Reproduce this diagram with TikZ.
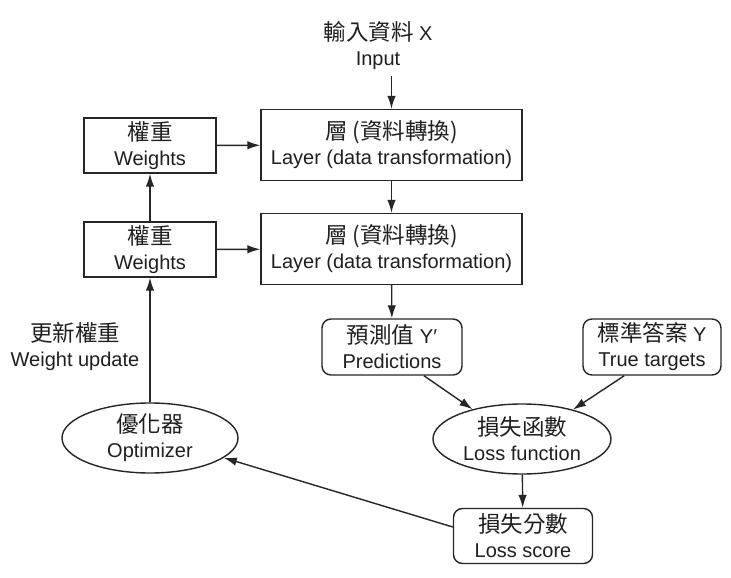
\documentclass[tikz,border=0pt]{standalone}
\usepackage{fontspec}
\setmainfont{Liberation Sans}
\newfontfamily\cjk{Noto Sans CJK TC}
\newcommand\zh[1]{{\cjk\fontsize{22.5}{25}\selectfont #1}}
\usetikzlibrary{arrows.meta,shapes.geometric}
\begin{document}
\begin{tikzpicture}[x=1pt,y=-1pt,
  every node/.style={align=center,inner sep=0pt,text=black!88,
    font=\fontsize{20}{25}\selectfont},
  sq/.style={draw=black!85,line width=1.4pt},
  layerbox/.style={sq,minimum width=261pt,minimum height=71pt},
  wbox/.style={sq,minimum width=132pt,minimum height=55pt},
  rbox/.style={sq,rounded corners=9pt,minimum height=56pt},
  oval/.style={sq,ellipse,minimum height=70pt},
  conn/.style={draw=black!85,line width=1.4pt,-{Latex[length=13pt,width=8.5pt]}}
]
\useasboundingbox[fill=white] (0,0) rectangle (731,578);

\node (in) at (378,46) {\zh{輸入資料} X\\Input};
\coordinate (inarrow) at (391.5,76);

\node[layerbox] (L1) at (391.5,145) {\zh{層 (資料轉換)}\\Layer (data transformation)};
\node[layerbox] (L2) at (391.5,249) {\zh{層 (資料轉換)}\\Layer (data transformation)};
\node[wbox] (W1) at (150,145.5) {\zh{權重}\\Weights};
\node[wbox] (W2) at (150,249.5) {\zh{權重}\\Weights};

\node (upd) at (75,347) {\zh{更新權重}\\Weight update};

\node[oval,minimum width=176pt] (opt) at (150,438) {\zh{優化器}\\Optimizer};
\node[rbox,minimum width=140pt] (pred) at (392,347) {\zh{預測值} Y′\\Predictions};
\node[rbox,minimum width=138pt] (tgt) at (652,347) {\zh{標準答案} Y\\True targets};
\node[oval,minimum width=178pt] (loss) at (522,439) {\zh{損失函數}\\Loss function};
\node[rbox,minimum width=139pt,minimum height=55pt] (score) at (523,536) {\zh{損失分數}\\Loss score};

\draw[conn] (inarrow) -- (L1);
\draw[conn] (W1) -- (L1);
\draw[conn] (W2) -- (L2);
\draw[conn] (L1) -- (L2);
\draw[conn] (W2) -- (W1);
\draw[conn] (opt) -- (W2);
\draw[conn] (L2) -- (pred);
\draw[conn] (pred.-42) -- (loss.149);
\draw[conn] (tgt.-134) -- (loss.30);
\draw[conn] (loss) -- (score);
\draw[conn] ([yshift=9pt]score.west) -- (opt.-15);
\end{tikzpicture}
\end{document}
